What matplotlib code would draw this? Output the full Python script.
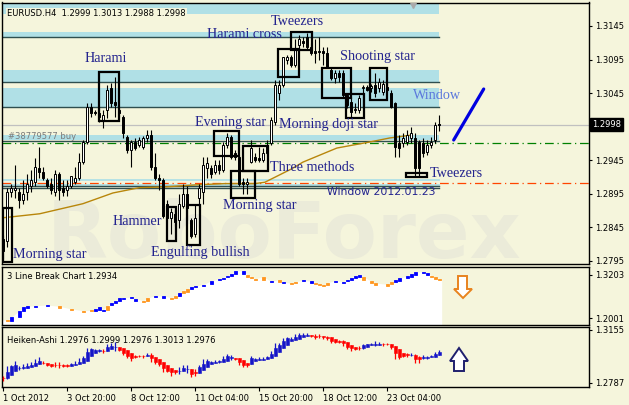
import numpy as np
import matplotlib
matplotlib.use("Agg")
import matplotlib.pyplot as plt
from matplotlib.patches import Rectangle, Polygon
from matplotlib.transforms import blended_transform_factory

# EURUSD H4 candles (1 Oct - 24 Oct 2012)
opens = [1.2828, 1.2825, 1.2897, 1.2900, 1.2897, 1.2885, 1.2897, 1.2907, 1.2912, 1.2933,
         1.2927, 1.2915, 1.2909, 1.2897, 1.2925, 1.2903, 1.2900, 1.2907, 1.2912, 1.2919,
         1.2942, 1.2972, 1.3024, 1.3017, 1.3015, 1.3005, 1.3020, 1.3053, 1.3032, 1.3020,
         1.3009, 1.2979, 1.2960, 1.2972, 1.2967, 1.2964, 1.2978, 1.2982, 1.2934, 1.2919,
         1.2915, 1.2880, 1.2858, 1.2865, 1.2855, 1.2877, 1.2895, 1.2855, 1.2835, 1.2888,
         1.2897, 1.2933, 1.2933, 1.2927, 1.2937, 1.2930, 1.2967, 1.2979, 1.2955, 1.2949,
         1.2912, 1.2910, 1.2942, 1.2949, 1.2948, 1.2945, 1.2955, 1.2970, 1.3002, 1.3045,
         1.3057, 1.3095, 1.3098, 1.3087, 1.3117, 1.3122, 1.3128, 1.3113, 1.3108, 1.3107,
         1.3107, 1.3105, 1.3080, 1.3068, 1.3075, 1.3075, 1.3042, 1.3032, 1.3020, 1.3020,
         1.3053, 1.3054, 1.3053, 1.3057, 1.3053, 1.3047, 1.3054, 1.3045, 1.3030, 1.2970,
         1.2970, 1.2972, 1.2978, 1.2978, 1.2972, 1.2970, 1.2957, 1.2967, 1.2975, 1.2999]
highs = [1.2834, 1.2903, 1.2910, 1.2937, 1.2904, 1.2915, 1.2925, 1.2930, 1.2948, 1.2964,
         1.2934, 1.2919, 1.2918, 1.2930, 1.2927, 1.2915, 1.2915, 1.2922, 1.2934, 1.2955,
         1.2975, 1.3030, 1.3030, 1.3020, 1.3023, 1.3020, 1.3057, 1.3060, 1.3069, 1.3023,
         1.3012, 1.2982, 1.2975, 1.2978, 1.2979, 1.2981, 1.2990, 1.2990, 1.2955, 1.2925,
         1.2918, 1.2885, 1.2873, 1.2870, 1.2895, 1.2910, 1.2907, 1.2859, 1.2880, 1.2910,
         1.2949, 1.2949, 1.2937, 1.2945, 1.2945, 1.2972, 1.2985, 1.2982, 1.2960, 1.2952,
         1.2918, 1.2918, 1.2975, 1.2955, 1.2964, 1.2963, 1.2975, 1.3009, 1.3065, 1.3065,
         1.3099, 1.3102, 1.3102, 1.3125, 1.3132, 1.3129, 1.3135, 1.3120, 1.3125, 1.3128,
         1.3114, 1.3114, 1.3083, 1.3080, 1.3080, 1.3080, 1.3045, 1.3039, 1.3030, 1.3042,
         1.3057, 1.3057, 1.3059, 1.3075, 1.3068, 1.3065, 1.3060, 1.3050, 1.3032, 1.2982,
         1.2985, 1.2990, 1.2994, 1.2985, 1.2975, 1.2978, 1.2975, 1.2979, 1.3002, 1.3013]
lows = [1.2798, 1.2815, 1.2890, 1.2888, 1.2874, 1.2880, 1.2885, 1.2897, 1.2907, 1.2919,
        1.2915, 1.2903, 1.2895, 1.2892, 1.2885, 1.2892, 1.2892, 1.2904, 1.2909, 1.2916,
        1.2939, 1.2969, 1.3009, 1.3012, 1.3002, 1.2993, 1.3008, 1.3024, 1.3009, 1.3009,
        1.2978, 1.2955, 1.2934, 1.2960, 1.2964, 1.2961, 1.2972, 1.2930, 1.2916, 1.2900,
        1.2859, 1.2858, 1.2835, 1.2847, 1.2844, 1.2874, 1.2855, 1.2829, 1.2831, 1.2880,
        1.2880, 1.2919, 1.2918, 1.2924, 1.2925, 1.2927, 1.2963, 1.2947, 1.2945, 1.2907,
        1.2895, 1.2895, 1.2940, 1.2942, 1.2942, 1.2942, 1.2952, 1.2967, 1.2997, 1.3035,
        1.3054, 1.3089, 1.3084, 1.3084, 1.3110, 1.3114, 1.3110, 1.3102, 1.3090, 1.3095,
        1.3087, 1.3083, 1.3065, 1.3060, 1.3062, 1.3039, 1.3023, 1.3009, 1.3015, 1.3015,
        1.3023, 1.3048, 1.3047, 1.3039, 1.3047, 1.3042, 1.3047, 1.3023, 1.2949, 1.2949,
        1.2964, 1.2967, 1.2970, 1.2922, 1.2922, 1.2949, 1.2952, 1.2963, 1.2970, 1.2988]
closes = [1.2810, 1.2897, 1.2904, 1.2904, 1.2885, 1.2894, 1.2910, 1.2915, 1.2934, 1.2927,
          1.2918, 1.2907, 1.2900, 1.2925, 1.2900, 1.2897, 1.2907, 1.2921, 1.2919, 1.2942,
          1.2972, 1.3024, 1.3015, 1.3015, 1.3009, 1.3012, 1.3050, 1.3030, 1.3027, 1.3015,
          1.2985, 1.2960, 1.2972, 1.2963, 1.2975, 1.2978, 1.2982, 1.2934, 1.2918, 1.2915,
          1.2862, 1.2859, 1.2867, 1.2852, 1.2880, 1.2895, 1.2874, 1.2832, 1.2858, 1.2903,
          1.2937, 1.2940, 1.2925, 1.2937, 1.2930, 1.2967, 1.2979, 1.2949, 1.2949, 1.2910,
          1.2909, 1.2912, 1.2963, 1.2945, 1.2945, 1.2955, 1.2967, 1.3005, 1.3057, 1.3057,
          1.3098, 1.3099, 1.3087, 1.3110, 1.3125, 1.3119, 1.3113, 1.3105, 1.3105, 1.3106,
          1.3105, 1.3084, 1.3068, 1.3075, 1.3069, 1.3042, 1.3027, 1.3017, 1.3021, 1.3038,
          1.3054, 1.3050, 1.3056, 1.3045, 1.3062, 1.3059, 1.3050, 1.3024, 1.2964, 1.2963,
          1.2978, 1.2982, 1.2985, 1.2933, 1.2933, 1.2955, 1.2967, 1.2972, 1.2997, 1.2998]

# moving average line (bar index, price)
ma_idx = [-0.1, 9.1, 19.9, 27.4, 34.1, 40.4, 47.9, 55.4, 62.9, 65.4, 72.1, 74.9, 83.4, 91.6, 96.6, 101.6]
ma_val = [1.2859, 1.2865, 1.2880, 1.2896, 1.2904, 1.2905, 1.2908, 1.2910, 1.2910, 1.2912,
          1.2932, 1.2942, 1.2963, 1.2972, 1.2978, 1.2982]

# 3 Line Break bricks: bar position, top, bottom, direction
lb_pos = [1, 2, 4, 5, 6, 8, 11, 14, 17, 20, 22, 23, 24, 25, 26, 27, 28, 29, 30, 32,
          33, 35, 36, 38, 40, 42, 43, 44, 45, 46, 47, 48, 50, 52, 54, 55, 56, 57, 58, 60,
          61, 62, 63, 65, 67, 69, 70, 72, 73, 75, 77, 78, 79, 80, 81, 83, 85, 86, 87, 88,
          89, 90, 92, 93, 96, 97, 98, 99, 101, 102, 103, 105, 106, 107, 108, 109]
lb_hi = [1.1945, 1.2021, 1.2205, 1.2300, 1.2328, 1.2345, 1.2364, 1.2328, 1.2253, 1.2205,
         1.2216, 1.2253, 1.2308, 1.2233, 1.2345, 1.2420, 1.2485, 1.2552, 1.2569, 1.2580,
         1.2541, 1.2485, 1.2560, 1.2624, 1.2616, 1.2569, 1.2624, 1.2692, 1.2747, 1.2820,
         1.2859, 1.2896, 1.2932, 1.3044, 1.3100, 1.3128, 1.3183, 1.3231, 1.3323, 1.3323,
         1.3211, 1.3156, 1.3100, 1.3147, 1.3027, 1.3072, 1.3007, 1.2971, 1.3016, 1.3055,
         1.3027, 1.2988, 1.2951, 1.2923, 1.2988, 1.3044, 1.3016, 1.3072, 1.3128, 1.3183,
         1.3211, 1.3147, 1.3035, 1.2979, 1.2943, 1.3007, 1.3055, 1.3111, 1.3175, 1.3223,
         1.3287, 1.3295, 1.3267, 1.3183, 1.3147, 1.3100]
lb_lo = [1.1909, 1.1926, 1.2021, 1.2205, 1.2289, 1.2317, 1.2336, 1.2289, 1.2216, 1.2177,
         1.2188, 1.2205, 1.2233, 1.2188, 1.2233, 1.2356, 1.2420, 1.2485, 1.2541, 1.2552,
         1.2485, 1.2457, 1.2485, 1.2580, 1.2569, 1.2524, 1.2552, 1.2624, 1.2692, 1.2719,
         1.2820, 1.2859, 1.2896, 1.2960, 1.3063, 1.3091, 1.3139, 1.3183, 1.3231, 1.3231,
         1.3156, 1.3119, 1.3063, 1.3063, 1.2999, 1.3007, 1.2979, 1.2943, 1.2988, 1.3027,
         1.2988, 1.2951, 1.2923, 1.2887, 1.2932, 1.2999, 1.2988, 1.3027, 1.3072, 1.3119,
         1.3156, 1.3063, 1.2979, 1.2932, 1.2904, 1.2951, 1.2999, 1.3044, 1.3111, 1.3156,
         1.3203, 1.3267, 1.3211, 1.3139, 1.3100, 1.3055]
lb_dir = list("duuuuuudddduuuduuuuuudduuddudduuuuuuuuuuddddudud"
              "duudddduuuuuuddddduuuuuuudddd")

# horizontal levels drawn on the chart
band_spans = [(1.31629, 1.3181), (1.31286, 1.31361), (1.30615, 1.30794),
              (1.30243, 1.30526), (1.29751, 1.29825)]
dark_levels = [1.31286, 1.30615, 1.30243, 1.29740, 1.29057, 1.29035]
thin_blue_levels = [1.29154, 1.29072]
price_now = 1.2998
green_level = 1.29701
red_level = 1.29102

main_ticks = [1.3145, 1.3095, 1.3045, 1.2945, 1.2895, 1.2845, 1.2795]
date_labels = ["1 Oct 2012", "3 Oct 20:00", "8 Oct 12:00", "11 Oct 04:00",
               "15 Oct 20:00", "18 Oct 12:00", "23 Oct 04:00"]

# pattern boxes: (bar from, bar to, price low, price high)
pattern_boxes = [(-0.1, 2.1, 1.27932, 1.28737), (23.9, 28.9, 1.30034, 1.30765),
                 (40.9, 43.1, 1.28245, 1.28752), (45.9, 49.1, 1.28185, 1.28781),
                 (52.6, 58.9, 1.29512, 1.29885), (56.9, 62.9, 1.28886, 1.29288),
                 (59.9, 66.1, 1.29288, 1.29661), (68.6, 73.9, 1.30690, 1.31107),
                 (71.9, 77.1, 1.31093, 1.31361), (79.8, 87.05, 1.30381, 1.30829),
                 (85.6, 90.2, 1.30074, 1.30432), (91.8, 96.0, 1.30347, 1.30820),
                 (100.8, 106.0, 1.29203, 1.29263)]
pattern_labels = [("Harami", 20.4, 1.30958), ("Harami cross", 50.9, 1.31316),
                  ("Tweezers", 66.9, 1.31510), ("Shooting star", 84.1, 1.30988),
                  ("Morning doji star", 68.9, 1.29974), ("Evening star", 47.9, 1.30004),
                  ("Three methods", 66.6, 1.29333), ("Tweezers", 106.6, 1.29244),
                  ("Morning star", 54.9, 1.28767), ("Hammer", 27.4, 1.28528),
                  ("Engulfing bullish", 36.9, 1.28081), ("Morning star", 2.4, 1.28036)]

BG = "#f5f5dc"
BAND = "#b0e0e6"
NAVY = "#23238e"
W, H = 629, 405
XMIN, XMAX = -0.4, 146.5
BAND_XMAX = 0.744

o = np.array(opens); h = np.array(highs); l = np.array(lows); c = np.array(closes)
x = np.arange(len(c))

# Heiken-Ashi from the same candles
ha_c = (o + h + l + c) / 4
ha_o = np.zeros_like(ha_c)
ha_o[0] = (o[0] + c[0]) / 2
for k in range(1, len(ha_c)):
    ha_o[k] = (ha_o[k - 1] + ha_c[k - 1]) / 2
ha_h = np.maximum(h, np.maximum(ha_o, ha_c))
ha_l = np.minimum(l, np.minimum(ha_o, ha_c))

plt.rcParams["font.family"] = "DejaVu Sans"
fig = plt.figure(figsize=(W / 100, H / 100), dpi=100, facecolor=BG)


def fig_rect(x0, y0, x1, y1):
    return [x0 / W, 1 - y1 / H, (x1 - x0) / W, (y1 - y0) / H]


ax = fig.add_axes(fig_rect(1.7, 2.5, 589.3, 264))
ax2 = fig.add_axes(fig_rect(1.7, 267, 589.3, 325), sharex=ax)
ax3 = fig.add_axes(fig_rect(1.7, 327, 589.3, 386.7), sharex=ax)

for a in (ax, ax2, ax3):
    a.set_facecolor(BG)
    for s in a.spines.values():
        s.set_color("black")
        s.set_linewidth(1)
    a.yaxis.tick_right()
    a.tick_params(axis="y", direction="out", length=2.5, width=0.8, pad=2,
                  labelsize=6, colors="black")
    a.tick_params(axis="x", bottom=False, labelbottom=False)
ax.set_xlim(XMIN, XMAX)

# ---- main panel ----
ax.set_ylim(1.27901, 1.3180)
for lo_, hi_ in band_spans:
    ax.axhspan(lo_, hi_, xmin=0, xmax=BAND_XMAX, color=BAND, lw=0, zorder=1)
for lv in dark_levels:
    ax.axhline(lv, xmin=0, xmax=BAND_XMAX, color="#2f4f4f", lw=1.0, zorder=2)
for lv in thin_blue_levels:
    ax.axhline(lv, xmin=0, xmax=BAND_XMAX, color=BAND, lw=1.3, zorder=1.5)
ax.axhline(price_now, color="#c0c0c0", lw=0.9, zorder=1.6)
ax.axhline(green_level, color="#008000", lw=0.9, ls=(0, (7, 3, 1, 3)), zorder=2)
ax.axhline(red_level, color="#ff4500", lw=0.9, ls=(0, (7, 3, 1, 3)), zorder=2)

# faint broker watermark behind the candles
ax.text(10.9, 1.27985, "RoboForex", fontsize=57, fontweight="bold", color="#ebebd9",
        va="baseline", ha="left", zorder=0.5)
ax.plot(ma_idx, ma_val, color="#b8860b", lw=1.0, zorder=2.5)

up = c >= o
body_lo = np.minimum(o, c)
body_h = np.maximum(np.abs(c - o), 0.00004)
ax.vlines(x, l, h, color="black", lw=0.8, zorder=3)
ax.bar(x[up], body_h[up], bottom=body_lo[up], width=0.6, color="white",
       edgecolor="black", lw=0.7, zorder=4)
ax.bar(x[~up], body_h[~up], bottom=body_lo[~up], width=0.6, color="black",
       edgecolor="black", lw=0.7, zorder=4)

for x0, x1, p0, p1 in pattern_boxes:
    ax.add_patch(Rectangle((x0, p0), x1 - x0, p1 - p0, fill=False, ec="black",
                           lw=1.6, zorder=5))
for txt, xi, py in pattern_labels:
    ax.text(xi, py, txt, family="Liberation Serif", fontsize=10.2, color=NAVY,
            va="center", ha="left", zorder=6)
ax.text(102.4, 1.30407, "Window", family="Liberation Serif", fontsize=10.2,
        color="#5b78dc", va="center", ha="left", zorder=6)
ax.text(80.9, 1.28975, "Window 2012.01.23", fontsize=7.8, color=NAVY,
        va="center", ha="left", zorder=6)
ax.text(1.2, 1.29803, "#38779577 buy", fontsize=6, color="#7a7a7a",
        va="center", ha="left", zorder=6)
ax.plot([112.6, 120.1], [1.2975, 1.3051], color="#0000e0", lw=2.3,
        solid_capstyle="round", zorder=6)
ax.plot([102.5], [1.31765], marker="v", ms=5, color="#a9a9a9", zorder=6)
ax.text(0.009, 0.975, "EURUSD.H4  1.2999 1.3013 1.2988 1.2998", transform=ax.transAxes,
        fontsize=6, color="black", va="top", ha="left", zorder=7,
        bbox=dict(facecolor=BG, edgecolor="none", pad=0.8))

ax.set_yticks(main_ticks)
ax.set_yticklabels([f"{t:.4f}" for t in main_ticks])
tr = blended_transform_factory(ax.transAxes, ax.transData)
ax.text(1.004, price_now, "1.2998", transform=tr, fontsize=6, color="white",
        va="center", ha="left", zorder=8, clip_on=False,
        bbox=dict(facecolor="black", edgecolor="black", boxstyle="square,pad=0.25"))

# ---- 3 Line Break panel ----
ax2.set_ylim(1.18054, 1.34266)
lb_pos_a = np.array(lb_pos)
lb_hi_a = np.array(lb_hi)
lb_lo_a = np.array(lb_lo)
ax2.fill_between(np.r_[XMIN, lb_pos_a, 109.6], np.r_[lb_hi_a[0], lb_hi_a, lb_hi_a[-1]],
                 1.1, color="white", lw=0, zorder=1)
lb_cols = ["#0000ff" if d == "u" else "#ff961e" for d in lb_dir]
ax2.bar(lb_pos_a, lb_hi_a - lb_lo_a, bottom=lb_lo_a, width=0.75, color=lb_cols,
        edgecolor=lb_cols, lw=0.6, zorder=3)
ax2.text(0.009, 0.83, "3 Line Break Chart 1.2934", transform=ax2.transAxes, fontsize=6,
         color="black", va="center", ha="left")
ax2.set_yticks([1.3203, 1.2001])
ax2.set_yticklabels(["1.3203", "1.2001"])

# ---- Heiken-Ashi panel ----
ax3.set_ylim(1.27581, 1.31739)
ha_up = ha_c >= ha_o
ha_cols = np.where(ha_up, "#1414c8", "#ff0000")
ax3.vlines(x, ha_l, ha_h, colors=ha_cols, lw=0.9, zorder=3)
ha_lo = np.minimum(ha_o, ha_c)
ha_hh = np.maximum(np.abs(ha_c - ha_o), 0.00004)
ax3.bar(x, ha_hh, bottom=ha_lo, width=0.8, color=ha_cols, edgecolor=ha_cols,
        lw=0.4, zorder=4)
ax3.text(0.009, 0.77, "Heiken-Ashi 1.2976 1.2999 1.2976 1.3013 1.2976",
         transform=ax3.transAxes, fontsize=6, color="black", va="center", ha="left")
ax3.set_yticks([1.3155, 1.2787])
ax3.set_yticklabels(["1.3155", "1.2787"])

ax3.set_xticks([16 * k - 0.1 for k in range(len(date_labels))])
ax3.set_xticklabels(date_labels)
ax3.tick_params(axis="x", bottom=True, labelbottom=True, direction="out", length=3,
                width=0.8, pad=2.5, labelsize=6, colors="black")
for lab in ax3.get_xticklabels():
    lab.set_ha("left")


# signal arrows in pixel coordinates
def fig_pts(pts):
    return [(px / W, 1 - py / H) for px, py in pts]


down_arrow = Polygon(fig_pts([(458, 276), (467, 276), (467, 289), (472, 289), (463, 298),
                              (454, 289), (458, 289)]), closed=True, fc="white",
                     ec="#e8831e", lw=1.4, transform=fig.transFigure)
up_arrow = Polygon(fig_pts([(459, 348), (468, 361), (464, 361), (464, 371), (454, 371),
                            (454, 361), (450, 361)]), closed=True, fc="white",
                   ec="#1f1f6e", lw=1.4, transform=fig.transFigure)
fig.add_artist(down_arrow)
fig.add_artist(up_arrow)

fig.savefig("out.png", dpi=100, facecolor=BG)
